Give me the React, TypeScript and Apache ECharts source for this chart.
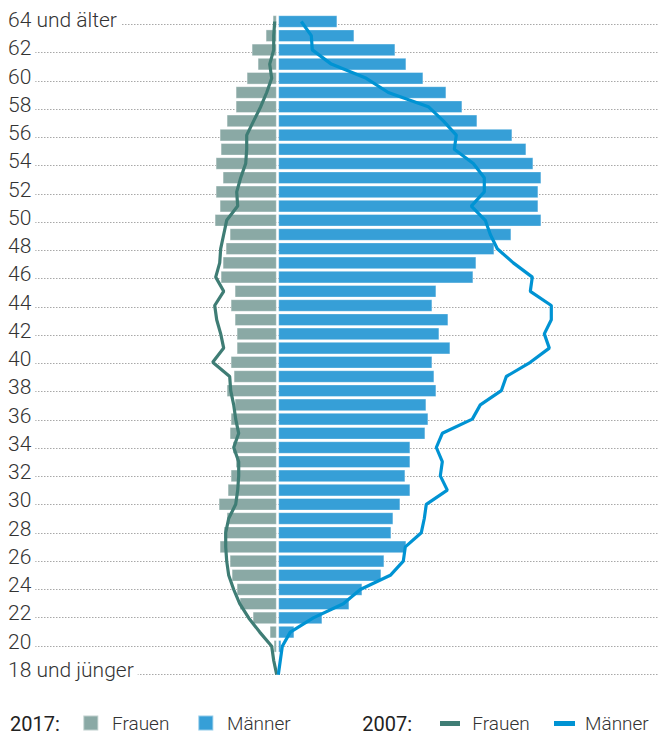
import React, { useEffect, useRef } from 'react';
import * as echarts from 'echarts';

// Ages from "18 und jünger" (bottom) to "64 und älter" (top)
const ages: number[] = [18, 19, 20, 21, 22, 23, 24, 25, 26, 27, 28, 29, 30, 31, 32, 33, 34, 35, 36, 37, 38, 39, 40, 41, 42, 43, 44, 45, 46, 47, 48, 49, 50, 51, 52, 53, 54, 55, 56, 57, 58, 59, 60, 61, 62, 63, 64];
const ageLabels: string[] = ages.map((a) => (a === 18 ? '18 und jünger' : a === 64 ? '64 und älter' : String(a)));

// 2017 bars
const frauen2017 = [0, 0, 3, 7, 24, 37, 40, 45, 47, 57, 53, 50, 58, 49, 46, 41, 44, 47, 46, 42, 50, 43, 46, 40, 40, 42, 46, 42, 56, 54, 51, 47, 62, 57, 61, 54, 61, 56, 57, 50, 41, 41, 30, 19, 25, 11, 4];
const maenner2017 = [0, 0, 3, 16, 44, 71, 84, 103, 106, 128, 113, 115, 122, 132, 127, 132, 132, 147, 150, 148, 158, 156, 154, 172, 161, 170, 154, 158, 195, 198, 216, 233, 263, 260, 260, 263, 255, 248, 234, 199, 184, 168, 145, 128, 117, 76, 59];

// 2007 lines
const frauen2007 = [0, 3, 5, 17, 28, 37, 43, 48, 50, 51, 51, 48, 41, 39, 38, 38, 43, 38, 41, 43, 46, 47, 64, 53, 56, 60, 62, 53, 61, 57, 56, 53, 50, 39, 40, 36, 31, 30, 30, 23, 16, 10, 5, 7, 3, 3, 2];
const maenner2007 = [0, 2, 4, 12, 35, 65, 82, 112, 125, 127, 143, 146, 148, 169, 162, 164, 158, 164, 194, 202, 223, 228, 252, 271, 266, 273, 273, 252, 254, 235, 219, 212, 207, 193, 206, 206, 195, 176, 178, 165, 150, 110, 88, 53, 34, 33, 23];

const seriesNames = ['Frauen 2017', 'Männer 2017', 'Frauen 2007', 'Männer 2007'];

export default function App() {
  const ref = useRef<HTMLDivElement>(null);
  useEffect(() => {
    if (!ref.current) return;
    const chart = echarts.init(ref.current, null, { renderer: 'svg' });
    const font = 'Roboto, "Helvetica Neue", Arial, sans-serif';
    const textColor = '#333';
    const catH = 14.2;
    const top0 = 14.4;
    const gridH = catH * ages.length;
    const dotTop = 24.3;
    const dotH = 649.7;
    const fmt = (n: string) => n.split(' ')[0];
    const legendText = { fontFamily: font, fontSize: 19, fontWeight: 300, color: textColor, lineHeight: 14 };
    const titleText = { fontFamily: font, fontSize: 20, fontWeight: 400, color: '#222', lineHeight: 14 };

    chart.setOption({
      animation: false,
      grid: [
        { left: 0, width: 276.7, top: top0, height: gridH },
        { left: 278.3, width: 300, top: top0, height: gridH },
        { left: 8, right: 0, top: dotTop, height: dotH },
        { left: 8, right: 0, top: dotTop + 2, height: dotH },
      ],
      xAxis: [
        { gridIndex: 0, type: 'value', min: 0, max: 276.7, inverse: true, show: false },
        { gridIndex: 1, type: 'value', min: 0, max: 300, show: false },
        { gridIndex: 2, type: 'value', min: 0, max: 1, show: false },
        { gridIndex: 3, type: 'value', min: 0, max: 1, show: false },
      ],
      yAxis: [
        { gridIndex: 0, type: 'category', data: ageLabels, show: false },
        { gridIndex: 1, type: 'category', data: ageLabels, show: false },
        {
          gridIndex: 2,
          type: 'category',
          data: ageLabels,
          boundaryGap: false,
          z: 0,
          axisLine: { show: false },
          axisTick: { show: false },
          axisLabel: { show: false },
          splitLine: {
            show: true,
            interval: 1,
            lineStyle: { color: '#a8a8a8', width: 1, type: [1.5, 1.5] },
          },
        },
        {
          gridIndex: 3,
          type: 'category',
          data: ageLabels,
          boundaryGap: false,
          position: 'left',
          z: 1,
          axisLine: { show: false },
          axisTick: { show: false },
          splitLine: { show: false },
          axisLabel: {
            show: true,
            inside: true,
            margin: 0,
            interval: 1,
            showMinLabel: true,
            showMaxLabel: true,
            align: 'left',
            verticalAlign: 'bottom',
            fontFamily: font,
            fontSize: 21,
            fontWeight: 300,
            color: textColor,
            lineHeight: 10,
            padding: [0, 4, 1.2, 0],
            backgroundColor: '#ffffff',
          },
        },
      ],
      title: [
        { text: '2017:', left: 10, top: 716.5, padding: 0, textStyle: titleText },
        { text: '2007:', left: 362.3, top: 716.5, padding: 0, textStyle: titleText },
      ],
      legend: [
        { data: [{ name: seriesNames[0], icon: 'rect' }], left: 82.3, top: 713.5, itemWidth: 15, itemHeight: 15, padding: 0, selectedMode: false, formatter: fmt, textStyle: { ...legendText, padding: [0, 0, 0, 8.7] } },
        { data: [{ name: seriesNames[1], icon: 'rect' }], left: 197.3, top: 713.5, itemWidth: 15, itemHeight: 15, padding: 0, selectedMode: false, formatter: fmt, textStyle: { ...legendText, padding: [0, 0, 0, 8.7] } },
        { data: [{ name: seriesNames[2], icon: 'rect' }], left: 440, top: 714, itemWidth: 20, itemHeight: 5, padding: 0, selectedMode: false, formatter: fmt, textStyle: { ...legendText, padding: [0, 0, 0, 7.3] } },
        { data: [{ name: seriesNames[3], icon: 'rect' }], left: 554, top: 714, itemWidth: 21, itemHeight: 5, padding: 0, selectedMode: false, formatter: fmt, textStyle: { ...legendText, padding: [0, 0, 0, 5] } },
      ],
      series: [
        {
          name: seriesNames[0], type: 'bar', xAxisIndex: 0, yAxisIndex: 0, data: frauen2017, barWidth: 12.4,
          itemStyle: { color: '#8aa9a5', borderColor: 'rgba(255,255,255,0.45)', borderWidth: 0.8 }, z: 2,
        },
        {
          name: seriesNames[1], type: 'bar', xAxisIndex: 1, yAxisIndex: 1, data: maenner2017, barWidth: 12.4,
          itemStyle: { color: '#369fd7', borderColor: 'rgba(255,255,255,0.45)', borderWidth: 0.8 }, z: 2,
        },
        {
          name: seriesNames[2], type: 'line', xAxisIndex: 0, yAxisIndex: 0, data: frauen2007, symbol: 'none',
          lineStyle: { color: '#3f7d75', width: 3.2 }, itemStyle: { color: '#3f7d75' }, z: 3,
        },
        {
          name: seriesNames[3], type: 'line', xAxisIndex: 1, yAxisIndex: 1, data: maenner2007, symbol: 'none',
          lineStyle: { color: '#0093d3', width: 3.2 }, itemStyle: { color: '#0093d3' }, z: 3,
        },
      ],
    });
    return () => chart.dispose();
  }, []);
  return <div ref={ref} style={{ position: 'absolute', left: 0, top: 0, width: 659, height: 731 }} />;
}
